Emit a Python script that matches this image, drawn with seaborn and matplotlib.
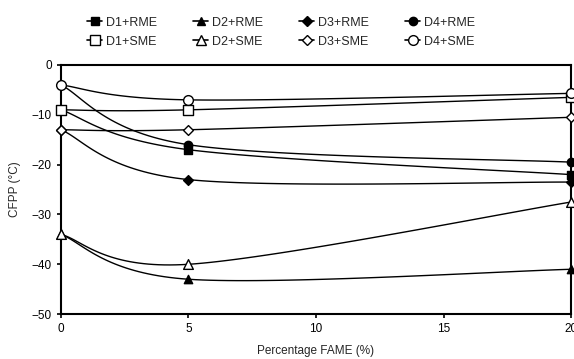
import numpy as np
import pandas as pd
import matplotlib
matplotlib.use("Agg")
import matplotlib.pyplot as plt
import seaborn as sns
from matplotlib.lines import Line2D

# Data
fame = [0, 5, 20]
series_names = ["D1+RME", "D1+SME", "D2+RME", "D2+SME",
                "D3+RME", "D3+SME", "D4+RME", "D4+SME"]
d1_rme = [-9, -17, -22]
d1_sme = [-9, -9, -6.5]
d2_rme = [-34, -43, -41]
d2_sme = [-34, -40, -27.5]
d3_rme = [-13, -23, -23.5]
d3_sme = [-13, -13, -10.5]
d4_rme = [-4, -16, -19.5]
d4_sme = [-4, -7, -5.7]

values = [d1_rme, d1_sme, d2_rme, d2_sme, d3_rme, d3_sme, d4_rme, d4_sme]
markers = ["s", "s", "^", "^", "D", "D", "o", "o"]
filled = [True, False, True, False, True, False, True, False]
msizes = [6, 7, 6, 7, 5, 5, 6, 7]


def smooth(x, y, n=40):
    # Bezier smoothing like a spreadsheet "smoothed line"
    x = np.asarray(x, float)
    y = np.asarray(y, float)
    px, py = [], []
    m = len(x)
    for i in range(m - 1):
        i0 = max(i - 1, 0)
        i3 = min(i + 2, m - 1)
        c1x = x[i] + (x[i + 1] - x[i0]) / 6
        c1y = y[i] + (y[i + 1] - y[i0]) / 6
        c2x = x[i + 1] - (x[i3] - x[i]) / 6
        c2y = y[i + 1] - (y[i3] - y[i]) / 6
        t = np.linspace(0, 1, n)
        bx = (1 - t) ** 3 * x[i] + 3 * (1 - t) ** 2 * t * c1x + 3 * (1 - t) * t ** 2 * c2x + t ** 3 * x[i + 1]
        by = (1 - t) ** 3 * y[i] + 3 * (1 - t) ** 2 * t * c1y + 3 * (1 - t) * t ** 2 * c2y + t ** 3 * y[i + 1]
        px.extend(bx)
        py.extend(by)
    return px, py


sns.set_style("ticks")
plt.rcParams["font.family"] = ["Liberation Sans", "DejaVu Sans"]

fig = plt.figure(figsize=(5.74, 3.59), dpi=100)
ax = fig.add_axes([0.106, 0.125, 0.889, 0.694])

handles = []
for name, vals, mk, fl, ms in zip(series_names, values, markers, filled, msizes):
    sx, sy = smooth(fame, vals)
    ax.plot(sx, sy, color="black", lw=1.0, zorder=2)
    df = pd.DataFrame({"x": fame, "y": vals})
    sns.scatterplot(data=df, x="x", y="y", ax=ax, marker=mk, s=ms ** 2,
                    facecolor="black" if fl else "white", edgecolor="black",
                    linewidth=1.0, zorder=3, legend=False, clip_on=False)
    handles.append(Line2D([], [], color="black", lw=1.2, marker=mk, markersize=ms,
                          markerfacecolor="black" if fl else "white",
                          markeredgecolor="black", label=name))

ax.set_xlim(0, 20)
ax.set_ylim(-50, 0)
ax.set_xticks([0, 5, 10, 15, 20])
ax.set_yticks([0, -10, -20, -30, -40, -50])
ax.tick_params(direction="out", length=3, width=1.2, labelsize=8.5, colors="black")
for sp in ax.spines.values():
    sp.set_linewidth(1.5)
    sp.set_color("black")
ax.set_xlabel("Percentage FAME (%)", fontsize=8.5, labelpad=7)
ax.set_ylabel("CFPP (°C)", fontsize=8.5, labelpad=8)

fig.legend(handles=handles, ncol=4, loc="upper center", bbox_to_anchor=(0.49, 0.985),
           frameon=False, fontsize=9, handlelength=1.2, handletextpad=0.3,
           columnspacing=2.9, labelspacing=0.55)

fig.savefig("out.png", dpi=100)
